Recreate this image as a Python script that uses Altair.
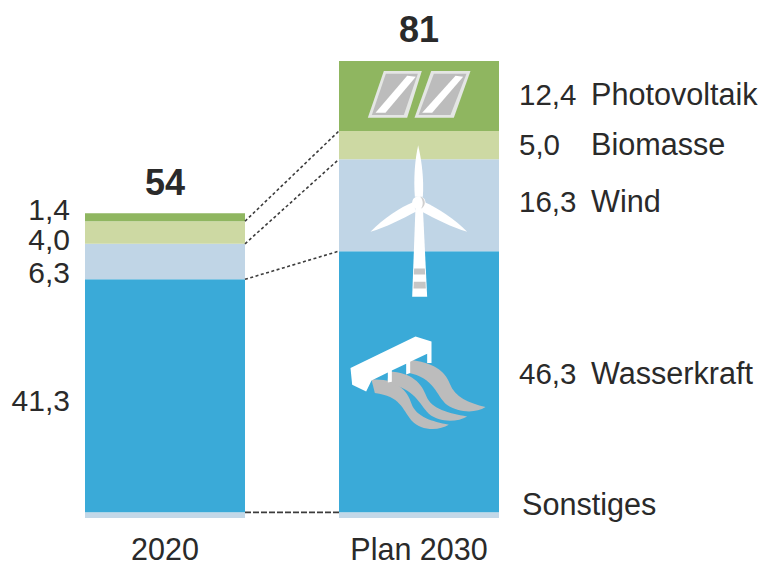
import re
import altair as alt
import pandas as pd

# Installed electricity capacity by source, bottom of the stack first
years = ["2020", "Plan 2030"]
sources = ["Sonstiges", "Wasserkraft", "Wind", "Biomasse", "Photovoltaik"]
values_2020 = [1.0, 41.3, 6.3, 4.0, 1.4]
values_2030 = [1.0, 46.3, 16.3, 5.0, 12.4]
totals = [54, 81]

colors = ["#c3d8e8", "#3aaad8", "#c0d5e6", "#cdd9a3", "#8fb660"]
text_color = "#2a2a2a"
font = "Liberation Sans"

# Layout, in x-scale units (one unit is one bar width) and pixels
bar_starts = [0.0, 1.5875]
bar_width = 1.0
x_scale = alt.Scale(domain=[0, 2.5875], nice=False, zero=False)
y_scale = alt.Scale(domain=[0, 81], nice=False)
no_axis = dict(axis=None, scale=x_scale)
no_y_axis = dict(axis=None, scale=y_scale)

# Vertical nudges of the labels away from their segment centres
left_nudge = [None, 6, 12, 8.5, -6]
right_nudge = [-9, -7, -2, 1, 0]


def stack(values):
    rows, base = [], 0.0
    for name, v, c in zip(sources, values, colors):
        rows.append(dict(source=name, value=v, y0=base, y1=base + v, mid=base + v / 2, color=c))
        base += v
    return rows


def comma(v):
    return f"{v:.1f}".replace(".", ",")


stack_2020 = stack(values_2020)
stack_2030 = stack(values_2030)

bar_rows = []
for start, rows in zip(bar_starts, [stack_2020, stack_2030]):
    for r in rows:
        bar_rows.append(dict(r, x0=start, x1=start + bar_width))
bars_df = pd.DataFrame(bar_rows)

centres = [s + bar_width / 2 for s in bar_starts]
bars = (
    alt.Chart(bars_df)
    .mark_rect()
    .encode(
        x=alt.X("x0:Q", **no_axis),
        x2="x1:Q",
        y=alt.Y("y0:Q", **no_y_axis),
        y2="y1:Q",
        color=alt.Color("color:N", scale=None),
    )
)


# Connectors between the tops of matching segments
def connector(left, right, dash):
    df = pd.DataFrame([dict(a=bar_starts[0] + bar_width, b=bar_starts[1], ya=left, yb=right)])
    return (
        alt.Chart(df)
        .mark_rule(color="#3c3c3c", strokeWidth=1.6, strokeDash=dash)
        .encode(
            x=alt.X("a:Q", **no_axis),
            x2="b:Q",
            y=alt.Y("ya:Q", **no_y_axis),
            y2="yb:Q",
        )
    )


links = [
    connector(stack_2020[i]["y1"], stack_2030[i]["y1"], [3, 2.5] if i else [6, 2])
    for i in [0, 1, 2, 3]
]


def label(text, x, y, dx=0, dy=0, align="left", size=30, weight="normal"):
    df = pd.DataFrame([dict(x=x, y=y, text=text)])
    return (
        alt.Chart(df)
        .mark_text(
            align=align,
            baseline="middle",
            dx=dx,
            dy=dy,
            font=font,
            fontSize=size,
            fontWeight=weight,
            color=text_color,
        )
        .encode(
            x=alt.X("x:Q", **no_axis),
            y=alt.Y("y:Q", **no_y_axis),
            text="text:N",
        )
    )


texts = []
for r, nudge in zip(stack_2020, left_nudge):
    if nudge is not None:
        texts.append(label(comma(r["value"]), bar_starts[0], r["mid"], dx=-15, dy=nudge, align="right"))
plan_right = bar_starts[1] + bar_width
for r, nudge in zip(stack_2030, right_nudge):
    if r["source"] == "Sonstiges":
        texts.append(label(r["source"], plan_right, r["mid"], dx=23, dy=nudge, size=30.6))
    else:
        texts.append(label(comma(r["value"]), plan_right, r["mid"], dx=20, dy=nudge, size=29.5))
        texts.append(label(r["source"], plan_right, r["mid"], dx=92, dy=nudge, size=30.6))
texts.append(label(str(totals[0]), centres[0], totals[0], dy=-29, align="center", size=36, weight="bold"))
texts.append(label(str(totals[1]), centres[1], totals[1], dy=-30, align="center", size=36, weight="bold"))
for year, centre in zip(years, centres):
    texts.append(label(year, centre, 0, dy=33, align="center", size=30.5))


# Icon outlines are drawn on a grid of a third of a pixel, relative to an anchor
GRID_SIZE = 4 / 9


def shifted(path, cx, cy):
    def move(m):
        return f"{float(m.group(1)) - cx:g},{float(m.group(2)) - cy:g}"

    return re.sub(r"(-?[\d.]+),(-?[\d.]+)", move, path)


def icon(path, fill, x, y, cx, cy):
    df = pd.DataFrame([dict(x=x, y=y)])
    return (
        alt.Chart(df)
        .mark_point(shape=shifted(path, cx, cy), filled=True, size=GRID_SIZE, color=fill, opacity=1, strokeWidth=0)
        .encode(x=alt.X("x:Q", **no_axis), y=alt.Y("y:Q", **no_y_axis))
    )


plan_x = centres[1]
WHITE, GREY, PALE = "#ffffff", "#bcbcbc", "#e4e6e4"

# Solar panels, centred on the Photovoltaik segment
sy, scx, scy = stack_2030[4]["mid"], 175.5, 93
solar = [
    ("M22,158 L140,158 L184,18 L70,18 Z", PALE),
    ("M162,158 L280,158 L330,18 L212,18 Z", PALE),
    ("M34,150 L130,150 L172,26 L76,26 Z", GREY),
    ("M174,150 L270,150 L318,26 L220,26 Z", GREY),
    ("M45,143 L75,143 L166,35 L140,32 Z", WHITE),
    ("M185,143 L215,143 L308,35 L285,32 Z", WHITE),
]
# Wind turbine, centred on the Wind segment
ty, tcx, tcy = stack_2030[2]["mid"], 160.5, 195
turbine = [
    ("M150,200 L172,200 L185,470 L140,470 Z", WHITE),
    ("M146,385 L178,385 L179,403 L145,403 Z", "#c6c6c6"),
    ("M145,425 L180,425 L181,445 L144,445 Z", "#c6c6c6"),
    ("M158,15 C148,60 144,115 148,170 L172,170 C176,115 168,60 158,15 Z", WHITE),
    ("M15,275 C55,232 105,202 142,186 L152,214 C110,236 60,262 15,275 Z", WHITE),
    ("M305,275 C270,238 215,202 178,186 L168,214 C210,236 260,262 305,275 Z", WHITE),
    ("M140,188 C140,162 180,162 180,188 C180,214 140,214 140,188 Z", WHITE),
    ("M164,170 C180,172 184,198 166,206 C174,196 174,180 164,170 Z", "#cfcfcf"),
]
# Weir with three outflows, centred on the Wasserkraft segment
wy, wcx, wcy = stack_2030[1]["mid"], 220.5, 156
weir = [
    ("M78,150 C150,145 185,180 198,222 C212,262 260,275 310,285 C280,304 225,303 198,272 C170,238 165,200 88,190 Z", GREY),
    ("M130,125 C200,128 228,160 243,200 C258,238 310,250 365,260 C335,278 280,278 250,252 C220,222 210,178 125,160 Z", GREY),
    ("M190,90 C262,98 298,122 313,162 C328,202 370,220 420,232 C390,252 338,248 305,226 C270,196 270,145 185,128 Z", GREY),
    ("M15,115 L210,20 L258,35 L258,100 L245,100 L245,72 L194,96 L194,130 L182,134 L182,102 L139,122 L139,156 L127,158 L127,128 L78,152 L62,185 L20,165 Z", WHITE),
]

icons = (
    [icon(p, f, plan_x, sy, scx, scy) for p, f in solar]
    + [icon(p, f, plan_x, ty, tcx, tcy) for p, f in turbine]
    + [icon(p, f, plan_x, wy, wcx, wcy) for p, f in weir]
)

chart = (
    alt.layer(bars, *links, *icons, *texts)
    .properties(
        width=414,
        height=457,
        padding={"left": 85, "top": 61, "right": 262, "bottom": 45},
        autosize=alt.AutoSizeParams(type="none"),
        background="white",
    )
    .configure_view(stroke=None)
)

chart.save("out.html", embed_options={"renderer": "svg", "actions": False})
